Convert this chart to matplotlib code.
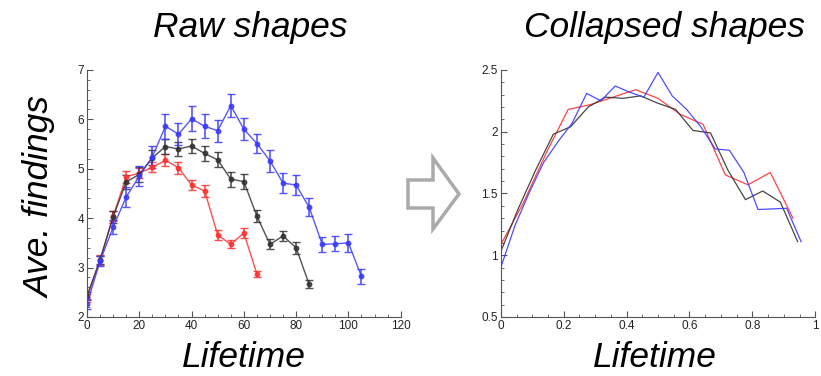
import matplotlib.pyplot as plt
from matplotlib.patches import Polygon
from matplotlib.ticker import MultipleLocator

plt.rcParams['font.family'] = ['Liberation Sans', 'DejaVu Sans']

W, H = 821, 376

# lifetime of each group (raw shapes)
t_blue = [0, 5, 10, 15, 20, 25, 30, 35, 40, 45, 50, 55, 60, 65, 70, 75, 80, 85, 90, 95, 100, 105]
t_black = [0, 5, 10, 15, 20, 25, 30, 35, 40, 45, 50, 55, 60, 65, 70, 75, 80, 85]
t_red = [0, 5, 10, 15, 20, 25, 30, 35, 40, 45, 50, 55, 60, 65]

# average findings
y_blue = [2.27, 3.13, 3.82, 4.43, 4.85, 5.24, 5.86, 5.70, 6.01, 5.86, 5.77, 6.28,
          5.80, 5.51, 5.16, 4.71, 4.67, 4.22, 3.47, 3.48, 3.50, 2.82]
y_black = [2.43, 3.16, 4.03, 4.73, 4.89, 5.22, 5.45, 5.40, 5.46, 5.31, 5.18, 4.79,
           4.74, 4.04, 3.47, 3.64, 3.40, 2.66]
y_red = [2.39, 3.15, 4.04, 4.84, 4.91, 5.03, 5.17, 5.02, 4.67, 4.55, 3.66, 3.47, 3.70, 2.87]

# error bars
e_blue = [0.10, 0.10, 0.15, 0.20, 0.20, 0.22, 0.25, 0.22, 0.25, 0.24, 0.22, 0.24,
          0.22, 0.20, 0.22, 0.20, 0.20, 0.18, 0.15, 0.15, 0.18, 0.16]
e_black = [0.08, 0.08, 0.12, 0.15, 0.15, 0.15, 0.15, 0.15, 0.15, 0.15, 0.15, 0.15,
           0.15, 0.12, 0.10, 0.10, 0.12, 0.08]
e_red = [0.08, 0.10, 0.10, 0.12, 0.10, 0.10, 0.12, 0.12, 0.10, 0.12, 0.10, 0.08, 0.10, 0.07]

# collapsed shapes: lifetime / duration, findings / scale
x_blue_c = [0.0, 0.045, 0.091, 0.136, 0.182, 0.227, 0.273, 0.318, 0.364, 0.409, 0.455,
            0.5, 0.545, 0.591, 0.636, 0.682, 0.727, 0.773, 0.818, 0.864, 0.909, 0.955]
y_blue_c = [0.90, 1.24, 1.51, 1.75, 1.92, 2.07, 2.31, 2.25, 2.37, 2.32, 2.28, 2.48,
            2.29, 2.18, 2.04, 1.86, 1.85, 1.67, 1.37, 1.375, 1.38, 1.11]
x_black_c = [0.0, 0.056, 0.111, 0.167, 0.222, 0.278, 0.333, 0.389, 0.444, 0.5, 0.556,
             0.611, 0.667, 0.722, 0.778, 0.833, 0.889, 0.944]
y_black_c = [1.03, 1.38, 1.69, 1.98, 2.04, 2.20, 2.28, 2.27, 2.29, 2.23, 2.18, 2.01,
             1.99, 1.69, 1.45, 1.52, 1.43, 1.11]
x_red_c = [0.0, 0.071, 0.143, 0.214, 0.286, 0.357, 0.429, 0.5, 0.571, 0.643, 0.714,
           0.786, 0.857, 0.929]
y_red_c = [1.085, 1.42, 1.82, 2.18, 2.22, 2.28, 2.34, 2.27, 2.14, 2.06, 1.65, 1.57, 1.67, 1.30]

c_blue = '#3a3aff'
c_black = '#333333'
c_red = '#ff3030'

fig = plt.figure(figsize=(W / 100, H / 100), dpi=100)
ax1 = fig.add_axes([0.106, 0.157, 0.382, 0.657])
ax2 = fig.add_axes([0.610, 0.157, 0.383, 0.657])

for t, y, e, c in [(t_red, y_red, e_red, c_red),
                   (t_black, y_black, e_black, c_black),
                   (t_blue, y_blue, e_blue, c_blue)]:
    ax1.errorbar(t, y, yerr=e, color=c, lw=1, marker='o', ms=3.2, mfc=c, mec=c,
                 ecolor=c, elinewidth=1.2, capsize=3, capthick=1, alpha=0.85)

for x, y, c in [(x_red_c, y_red_c, c_red), (x_black_c, y_black_c, c_black),
                (x_blue_c, y_blue_c, c_blue)]:
    ax2.plot(x, y, color=c, lw=0.9, alpha=0.9)

ax1.set_xlim(0, 120)
ax1.set_ylim(2, 7)
ax1.xaxis.set_major_locator(MultipleLocator(20))
ax1.xaxis.set_minor_locator(MultipleLocator(5))
ax1.yaxis.set_major_locator(MultipleLocator(1))
ax1.yaxis.set_minor_locator(MultipleLocator(0.2))

ax2.set_xlim(0, 1)
ax2.set_ylim(0.5, 2.5)
ax2.xaxis.set_minor_locator(MultipleLocator(0.05))
ax2.yaxis.set_minor_locator(MultipleLocator(0.1))
ax2.set_xticks([0, 0.2, 0.4, 0.6, 0.8, 1])
ax2.set_xticklabels(['0', '0.2', '0.4', '0.6', '0.8', '1'])
ax2.set_yticks([0.5, 1, 1.5, 2, 2.5])
ax2.set_yticklabels(['0.5', '1', '1.5', '2', '2.5'])

for ax in (ax1, ax2):
    ax.spines['top'].set_visible(False)
    ax.spines['right'].set_visible(False)
    ax.spines['left'].set_color('#555555')
    ax.spines['bottom'].set_color('#555555')
    ax.tick_params(which='both', direction='in', color='#555555', labelsize=8.5,
                   labelcolor='#222222', pad=2)
    ax.tick_params(which='major', length=4)
    ax.tick_params(which='minor', length=2)


def px(x, y):
    return x / W, 1 - y / H


big = dict(fontsize=25.5, style='italic')
fig.text(*px(250, 37), 'Raw shapes', ha='center', va='baseline', **big)
fig.text(*px(664, 37), 'Collapsed shapes', ha='center', va='baseline', **big)
fig.text(*px(244, 367), 'Lifetime', ha='center', va='baseline', **big)
fig.text(*px(655, 367), 'Lifetime', ha='center', va='baseline', **big)
fig.text(*px(50, 197), 'Ave. findings', ha='center', va='baseline', rotation=90,
         rotation_mode='anchor', **big)

# hollow arrow between the panels
arrow_pts = [(408, 180), (433, 180), (433, 158), (459, 194), (433, 229),
             (433, 208), (408, 208)]
arrow = Polygon([px(x, y) for x, y in arrow_pts], closed=True, fill=False,
                edgecolor='#aaaaaa', lw=2.5, transform=fig.transFigure)
fig.patches.append(arrow)

fig.savefig('out.png', dpi=100)
